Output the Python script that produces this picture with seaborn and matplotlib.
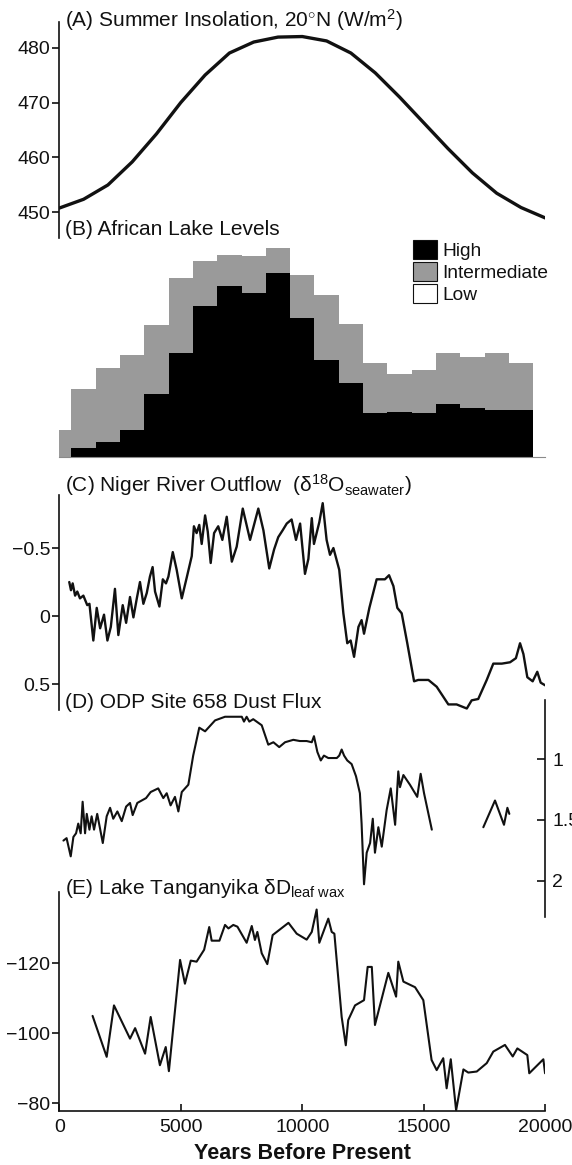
import matplotlib
matplotlib.use("Agg")
import numpy as np
import pandas as pd
import seaborn as sns
import matplotlib.pyplot as plt
from matplotlib.patches import Patch

# ---------------- data ----------------
# (A) summer insolation at 20N, W/m2
ins_years = [0, 1000, 2000, 3000, 4000, 5000, 6000, 7000, 8000, 9000, 10000,
             11000, 12000, 13000, 14000, 15000, 16000, 17000, 18000, 19000, 20000]
ins_vals = [450.8, 452.4, 455.0, 459.2, 464.3, 470.0, 475.0, 479.0, 481.0, 481.9, 482.0,
            481.2, 479.0, 475.4, 471.0, 466.3, 461.6, 457.2, 453.5, 450.9, 449.0]

# (B) African lake levels, percent of lakes per 1000-yr bin
lake_bins = [0, 1000, 2000, 3000, 4000, 5000, 6000, 7000, 8000, 9000,
             10000, 11000, 12000, 13000, 14000, 15000, 16000, 17000, 18000, 19000]
lake_high = [0.0, 3.7, 6.6, 11.8, 27.7, 45.9, 66.5, 75.3, 72.3, 80.9,
             61.4, 42.6, 32.3, 19.4, 19.9, 19.4, 23.1, 21.6, 20.6, 20.6]
lake_inter = [11.8, 26.0, 32.4, 33.0, 30.4, 32.8, 20.0, 13.7, 16.2, 11.0,
              18.7, 28.7, 26.1, 21.8, 16.6, 18.8, 22.8, 22.2, 25.0, 20.9]

# (C) Niger River outflow, d18O seawater
niger_years = [410, 480, 550, 650, 740, 850, 990, 1150, 1240, 1400, 1540, 1680, 1840, 1980,
               2120, 2290, 2430, 2610, 2750, 2910, 3050, 3190, 3320, 3460, 3600, 3730, 3840,
               3940, 4120, 4260, 4390, 4490, 4670, 4830, 5040, 5240, 5450, 5540, 5650, 5760,
               5860, 6000, 6110, 6230, 6370, 6540, 6710, 6890, 7100, 7300, 7550, 7850, 8190,
               8400, 8640, 8840, 9010, 9190, 9360, 9560, 9740, 9910, 10110, 10250, 10390,
               10480, 10700, 10840, 11000, 11140, 11280, 11520, 11690, 11850, 11990, 12130,
               12310, 12440, 12540, 12760, 13060, 13400, 13570, 13750, 13910, 14090, 14320,
               14600, 14770, 14980, 15190, 15530, 16010, 16350, 16770, 16970, 17240, 17590,
               17860, 18210, 18550, 18790, 18960, 19100, 19260, 19480, 19670, 19810, 20000]
niger_vals = [-0.25, -0.19, -0.24, -0.15, -0.18, -0.13, -0.15, -0.08, -0.09, 0.18, -0.06,
              0.09, -0.01, 0.18, 0.08, -0.20, 0.14, -0.08, 0.05, -0.14, 0.01, -0.13, -0.25,
              -0.09, -0.17, -0.29, -0.36, -0.18, -0.07, -0.27, -0.24, -0.29, -0.47, -0.34,
              -0.13, -0.28, -0.44, -0.66, -0.61, -0.67, -0.53, -0.74, -0.62, -0.39, -0.61,
              -0.66, -0.56, -0.73, -0.40, -0.51, -0.79, -0.56, -0.79, -0.63, -0.35, -0.49,
              -0.58, -0.63, -0.68, -0.71, -0.56, -0.68, -0.31, -0.42, -0.72, -0.53, -0.69,
              -0.83, -0.56, -0.45, -0.50, -0.34, -0.02, 0.20, 0.18, 0.30, 0.08, 0.03, 0.13,
              -0.06, -0.27, -0.27, -0.30, -0.22, -0.06, -0.02, 0.20, 0.48, 0.47, 0.47, 0.47,
              0.52, 0.65, 0.65, 0.68, 0.62, 0.61, 0.47, 0.35, 0.35, 0.34, 0.31, 0.20, 0.28,
              0.45, 0.48, 0.41, 0.49, 0.51]

# (D) ODP Site 658 dust flux (two separate segments)
dust_years = [170, 300, 470, 580, 690, 780, 880, 960, 1060, 1130, 1240, 1330, 1430, 1560,
              1790, 1950, 2090, 2220, 2390, 2570, 2750, 2910, 3020, 3210, 3390, 3570, 3760,
              4070, 4280, 4420, 4580, 4760, 4900, 5040, 5310, 5510, 5760, 6000, 6410, 6820,
              7510, 7600, 7710, 7820, 7980, 8330, 8600, 8810, 9050, 9290, 9630, 9900, 10180,
              10390, 10480, 10620, 10760, 10890, 11070, 11420, 11520, 11620, 11720, 11850,
              12030, 12210, 12370, 12440, 12540, 12650, 12790, 12900, 12990, 13130, 13270,
              13470, 13640, 13820, 13950, 14020, 14160, 14430, 14730, 14870, 15010, 15330]
dust_vals = [1.67, 1.65, 1.80, 1.64, 1.61, 1.53, 1.61, 1.35, 1.61, 1.45, 1.58, 1.47, 1.58,
             1.45, 1.69, 1.47, 1.40, 1.49, 1.43, 1.51, 1.39, 1.36, 1.46, 1.36, 1.34, 1.32,
             1.27, 1.24, 1.32, 1.28, 1.38, 1.31, 1.43, 1.27, 1.21, 0.97, 0.74, 0.77, 0.68,
             0.65, 0.65, 0.69, 0.65, 0.69, 0.67, 0.72, 0.88, 0.86, 0.90, 0.86, 0.84, 0.85,
             0.85, 0.86, 0.81, 0.94, 1.01, 0.97, 0.99, 0.99, 0.97, 0.92, 0.97, 1.01, 1.04,
             1.14, 1.28, 1.53, 2.03, 1.77, 1.69, 1.49, 1.77, 1.56, 1.72, 1.42, 1.24, 1.54,
             1.10, 1.23, 1.13, 1.21, 1.31, 1.12, 1.28, 1.58]
dust_late_years = [17450, 17930, 18300, 18440, 18520]
dust_late_vals = [1.56, 1.34, 1.54, 1.40, 1.45]

# (E) Lake Tanganyika dD leaf wax
tang_years = [1370, 1950, 2250, 2910, 3120, 3530, 3760, 4140, 4380, 4510, 4970, 5170, 5410,
              5650, 5960, 6170, 6270, 6590, 6820, 6960, 7160, 7330, 7710, 7920, 8050, 8150,
              8330, 8560, 8780, 9430, 9770, 10180, 10390, 10590, 10700, 11070, 11210, 11320,
              11620, 11790, 11890, 12170, 12540, 12690, 12860, 12990, 13540, 13860, 13950,
              14160, 14640, 14980, 15320, 15530, 15800, 15940, 16110, 16330, 16630, 16830,
              17180, 17590, 17860, 18340, 18660, 18850, 19260, 19340, 19920, 19990]
tang_vals = [-105.0, -93.3, -108.0, -98.5, -101.5, -94.2, -104.7, -90.9, -96.1, -89.2,
             -121.0, -114.2, -120.8, -120.5, -123.9, -130.4, -126.5, -126.5, -131.0, -130.0,
             -131.0, -130.5, -125.9, -130.7, -126.7, -129.0, -122.9, -119.8, -128.1, -131.6,
             -128.5, -126.8, -129.0, -135.4, -125.9, -132.8, -129.0, -128.5, -104.7, -96.6,
             -103.8, -108.0, -109.5, -119.0, -119.0, -102.4, -117.3, -110.5, -120.5, -114.8,
             -113.2, -109.5, -92.4, -89.5, -92.9, -84.3, -92.6, -78.0, -89.7, -88.8, -89.1,
             -91.5, -94.8, -96.7, -93.4, -95.7, -93.8, -88.6, -92.6, -88.6]

# ---------------- style ----------------
sns.set_theme(style="white")
plt.rcParams["font.family"] = ["Liberation Sans", "DejaVu Sans"]
plt.rcParams.update({
    "mathtext.fontset": "custom",
    "mathtext.rm": "Liberation Sans",
    "mathtext.it": "Liberation Sans:italic",
    "mathtext.bf": "Liberation Sans:bold",
    "text.color": "#111111",
    "axes.unicode_minus": True,
})

INK = "#111111"
GREY = "#9a9a9a"
TICK_FS = 14
TITLE_FS = 15

W, H = 572, 1165
fig = plt.figure(figsize=(W / 100, H / 100), dpi=100)
fig.patch.set_facecolor("white")

X_LEFT, X_RIGHT = 59.3, 545.3


def panel(top, bottom):
    ax = fig.add_axes([X_LEFT / W, 1 - bottom / H, (X_RIGHT - X_LEFT) / W, (bottom - top) / H])
    ax.patch.set_visible(False)
    for s in ax.spines.values():
        s.set_visible(False)
        s.set_linewidth(1.2)
        s.set_color(INK)
    ax.set_xlim(0, 20000)
    ax.tick_params(axis="x", bottom=False, labelbottom=False)
    return ax


def left_axis(ax, ticks, labels):
    ax.spines["left"].set_visible(True)
    ax.set_yticks(ticks)
    ax.set_yticklabels(labels)
    ax.tick_params(axis="y", left=True, direction="out", length=5, width=1.2,
                   colors=INK, labelsize=TICK_FS, pad=1.5)


def title(y_base, s):
    fig.text(65 / W, 1 - y_base / H, s, fontsize=TITLE_FS, ha="left", va="baseline", color=INK)


# (A) insolation
axA = panel(21.7, 238.3)
sns.lineplot(x=ins_years, y=ins_vals, ax=axA, color=INK, linewidth=2.4)
axA.set_xlim(0, 20000)
axA.set_ylim(445.3, 484.7)
left_axis(axA, [450, 460, 470, 480], ["450", "460", "470", "480"])
title(26.7, r"(A) Summer Insolation, 20$^{\circ}$N (W/m$^{2}$)")

# (B) lake levels: grey = high + intermediate, black = high drawn over it
axB = panel(230.0, 456.7)
lake_df = pd.DataFrame({"bin": lake_bins, "high": lake_high, "inter": lake_inter})
lake_df["upper"] = lake_df["high"] + lake_df["inter"]
sns.barplot(data=lake_df, x="bin", y="upper", ax=axB, native_scale=True, orient="v",
            color=GREY, saturation=1, width=1, linewidth=0, errorbar=None)
sns.barplot(data=lake_df, x="bin", y="high", ax=axB, native_scale=True, orient="v",
            color="black", saturation=1, width=1, linewidth=0, errorbar=None)
axB.set_xlim(0, 20000)
axB.set_ylim(0, 100)
axB.set_xlabel("")
axB.set_ylabel("")
axB.set_xticks([])
axB.set_yticks([])
axB.spines["bottom"].set_visible(True)
axB.spines["bottom"].set_color("#8a8a8a")
axB.spines["bottom"].set_linewidth(0.8)
handles = [Patch(facecolor="black", edgecolor=INK, linewidth=0.8, label="High"),
           Patch(facecolor=GREY, edgecolor=INK, linewidth=0.8, label="Intermediate"),
           Patch(facecolor="white", edgecolor=INK, linewidth=0.8, label="Low")]
fig.legend(handles=handles, loc="upper left", bbox_to_anchor=(413 / W, 1 - 240 / H),
           frameon=False, fontsize=13.8, handlelength=1.25, handleheight=1.15,
           handletextpad=0.3, labelspacing=0.1, borderpad=0, borderaxespad=0)
title(235.0, "(B) African Lake Levels")

# (C) Niger River outflow (inverted)
axC = panel(495.0, 710.0)
sns.lineplot(x=niger_years, y=niger_vals, ax=axC, color=INK, linewidth=1.7,
             estimator=None, sort=False)
axC.set_xlim(0, 20000)
axC.set_ylim(0.691, -0.890)
left_axis(axC, [-0.5, 0, 0.5], ["\u22120.5", "0", "0.5"])
title(491.5, "(C) Niger River Outflow  (\u03b4$^{18}$O$_{\\mathrm{seawater}}$)")

# (D) ODP 658 dust flux (inverted, right axis)
axD = panel(700.0, 916.7)
sns.lineplot(x=dust_years, y=dust_vals, ax=axD, color=INK, linewidth=1.5,
             estimator=None, sort=False)
sns.lineplot(x=dust_late_years, y=dust_late_vals, ax=axD, color=INK, linewidth=1.5,
             estimator=None, sort=False)
axD.set_xlim(0, 20000)
axD.set_ylim(2.297, 0.512)
axD.spines["right"].set_visible(True)
axD.set_yticks([1, 1.5, 2])
axD.set_yticklabels(["1", "1.5", "2"])
axD.tick_params(axis="y", left=False, labelleft=False, right=True, labelright=True,
                direction="in", length=5.5, width=1.2, colors=INK, labelsize=TICK_FS, pad=5)
title(708.3, "(D) ODP Site 658 Dust Flux")

# (E) Lake Tanganyika dD (inverted)
axE = panel(891.7, 1110.7)
sns.lineplot(x=tang_years, y=tang_vals, ax=axE, color=INK, linewidth=1.5,
             estimator=None, sort=False)
axE.set_xlim(0, 20000)
axE.set_ylim(-77.9, -140.5)
left_axis(axE, [-120, -100, -80], ["\u2212120", "\u2212100", "\u221280"])
axE.spines["bottom"].set_visible(True)
axE.set_xticks([0, 5000, 10000, 15000, 20000])
axE.set_xticklabels(["0", "5000", "10000", "15000", "20000"])
axE.tick_params(axis="x", bottom=True, labelbottom=True, direction="in", length=5,
                width=1.2, colors=INK, labelsize=TICK_FS, pad=6)
axE.set_xlabel("")
fig.text((X_LEFT + X_RIGHT) / 2 / W, 1 - 1159 / H, "Years Before Present",
         fontsize=15.5, fontweight="bold", ha="center", va="baseline", color=INK)
title(894.0, "(E) Lake Tanganyika \u03b4D$_{\\mathrm{leaf\\ wax}}$")

fig.savefig("out.png", dpi=100, facecolor="white")
